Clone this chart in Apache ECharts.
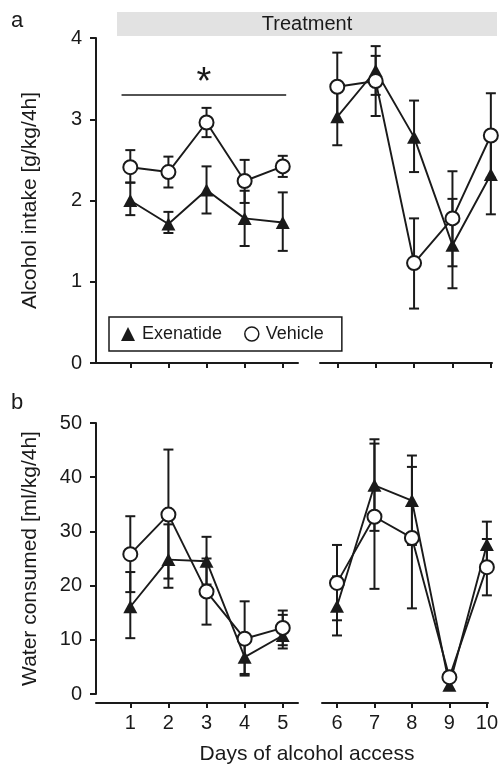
<!DOCTYPE html>
<html>
<head>
<meta charset="utf-8">
<script src="https://cdn.jsdelivr.net/npm/echarts@6/dist/echarts.min.js"></script>
<style>
  html, body { margin: 0; padding: 0; background: #fff; }
  #chart { width: 501px; height: 766px; }
</style>
</head>
<body>
<div id="chart"></div>
<script>
// days, split in two blocks (before / after treatment gap)
const daysLeft = [1, 2, 3, 4, 5];
const daysRight = [6, 7, 8, 9, 10];

// a: alcohol intake [g/kg/4h]
const alcoholExenatide = [2.00, 1.71, 2.13, 1.78, 1.73, 3.03, 3.60, 2.78, 1.45, 2.32];
const alcoholExenatideLow = [1.82, 1.60, 1.84, 1.44, 1.38, 2.68, 3.30, 2.35, 0.92, 1.83];
const alcoholExenatideHigh = [2.22, 1.86, 2.42, 2.12, 2.10, 3.38, 3.90, 3.23, 2.02, 2.80];
const alcoholVehicle = [2.41, 2.35, 2.96, 2.24, 2.42, 3.40, 3.47, 1.23, 1.78, 2.80];
const alcoholVehicleLow = [2.22, 2.16, 2.78, 1.97, 2.29, 2.98, 3.04, 0.67, 1.19, 2.28];
const alcoholVehicleHigh = [2.62, 2.54, 3.14, 2.50, 2.55, 3.82, 3.78, 1.78, 2.36, 3.32];

// b: water consumed [ml/kg/4h]
const waterExenatide = [16.1, 24.8, 24.5, 6.8, 10.8, 16.2, 38.5, 35.7, 1.6, 27.6];
const waterExenatideLow = [10.3, 19.6, 20.2, 3.4, 8.4, 10.8, 30.1, 27.5, 0.8, 23.2];
const waterExenatideHigh = [22.5, 31.3, 29.0, 10.3, 14.6, 21.7, 47.0, 44.0, 2.4, 31.8];
const waterVehicle = [25.8, 33.1, 18.9, 10.2, 12.2, 20.5, 32.7, 28.8, 3.1, 23.4];
const waterVehicleLow = [18.8, 21.3, 12.8, 3.7, 9.0, 13.6, 19.4, 15.8, 2.3, 18.2];
const waterVehicleHigh = [32.8, 45.1, 25.0, 17.1, 15.4, 27.5, 46.2, 41.9, 4.0, 28.6];

// significance bar over days 1-5 in panel a
const sigStart = [0.77, 3.3];
const sigEnd = [5.09, 3.3];

const INK = '#1a1a1a';
const FONT = 'Liberation Sans, Arial, Helvetica, sans-serif';

const chart = echarts.init(document.getElementById('chart'));

const pts = (days, vals, off) => days.map((d, i) => [d, vals[off + i]]);

const errorBars = (axis, days, low, high, off) => ({
  type: 'custom',
  xAxisIndex: axis,
  yAxisIndex: axis,
  z: 2,
  silent: true,
  data: days.map((d, i) => [d, low[off + i], high[off + i]]),
  encode: { x: 0, y: [1, 2] },
  renderItem: (params, api) => {
    const lo = api.coord([api.value(0), api.value(1)]);
    const hi = api.coord([api.value(0), api.value(2)]);
    const w = 5;
    const style = { stroke: INK, lineWidth: 2 };
    return {
      type: 'group',
      children: [
        { type: 'line', shape: { x1: lo[0], y1: lo[1], x2: hi[0], y2: hi[1] }, style },
        { type: 'line', shape: { x1: lo[0] - w, y1: lo[1], x2: lo[0] + w, y2: lo[1] }, style },
        { type: 'line', shape: { x1: hi[0] - w, y1: hi[1], x2: hi[0] + w, y2: hi[1] }, style }
      ]
    };
  }
});

const exenatideLine = (axis, data) => ({
  type: 'line',
  name: 'Exenatide',
  xAxisIndex: axis,
  yAxisIndex: axis,
  z: 3,
  data,
  symbol: 'triangle',
  symbolSize: [14, 13],
  itemStyle: { color: INK },
  lineStyle: { color: INK, width: 1.9 }
});

const vehicleLine = (axis, data) => ({
  type: 'line',
  name: 'Vehicle',
  xAxisIndex: axis,
  yAxisIndex: axis,
  z: 4,
  data,
  symbol: 'circle',
  symbolSize: 14,
  itemStyle: { color: '#fff', borderColor: INK, borderWidth: 2 },
  lineStyle: { color: INK, width: 1.9 }
});

const xAxisDef = (grid, min, max, ticks, withLabels) => ({
  type: 'value',
  gridIndex: grid,
  min, max,
  offset: withLabels ? 9 : 0,
  axisLine: { show: true, onZero: false, lineStyle: { color: INK, width: 2 } },
  axisTick: { show: true, customValues: ticks, length: 5, lineStyle: { color: INK, width: 2 } },
  axisLabel: {
    show: withLabels, customValues: ticks, margin: 10,
    fontSize: 20, color: INK, fontFamily: FONT
  },
  splitLine: { show: false }
});

const yAxisDef = (grid, max, interval, name, visible) => ({
  type: 'value',
  gridIndex: grid,
  min: 0, max, interval,
  show: visible,
  name,
  nameLocation: 'middle',
  nameGap: 55,
  nameTextStyle: { fontSize: 21, color: INK, fontFamily: FONT },
  axisLine: { show: true, onZero: false, lineStyle: { color: INK, width: 2 } },
  axisTick: { show: true, length: 6, lineStyle: { color: INK, width: 2 } },
  axisLabel: { margin: 14, fontSize: 20, color: INK, fontFamily: FONT },
  splitLine: { show: false }
});

const alcoholLeftVehicle = vehicleLine(0, pts(daysLeft, alcoholVehicle, 0));
alcoholLeftVehicle.markLine = {
  silent: true,
  symbol: 'none',
  lineStyle: { color: INK, width: 1.6, type: 'solid' },
  label: { show: true, position: 'middle', formatter: '*', fontSize: 38, color: INK, fontFamily: FONT, distance: -8 },
  data: [[{ coord: sigStart }, { coord: sigEnd }]]
};

const option = {
  animation: false,
  backgroundColor: '#fff',
  grid: [
    { left: 96, top: 38, width: 202, height: 325 },
    { left: 320, top: 38, width: 172, height: 325 },
    { left: 96, top: 423, width: 202, height: 271 },
    { left: 322, top: 423, width: 170, height: 271 }
  ],
  xAxis: [
    xAxisDef(0, 0.1, 5.4, daysLeft, false),
    xAxisDef(1, 5.55, 10.03, daysRight, false),
    xAxisDef(2, 0.1, 5.4, daysLeft, true),
    xAxisDef(3, 5.6, 10.03, daysRight, true)
  ],
  yAxis: [
    yAxisDef(0, 4, 1, 'Alcohol intake [g/kg/4h]', true),
    yAxisDef(1, 4, 1, '', false),
    yAxisDef(2, 50, 10, 'Water consumed [ml/kg/4h]', true),
    yAxisDef(3, 50, 10, '', false)
  ],
  legend: {
    left: 109,
    top: 317,
    orient: 'horizontal',
    borderColor: INK,
    borderWidth: 1.5,
    padding: [8, 18, 8, 12],
    itemGap: 22,
    itemWidth: 14,
    itemHeight: 14,
    textStyle: { fontSize: 18, color: INK, fontFamily: FONT, padding: [0, 0, 0, 2] },
    data: [
      { name: 'Exenatide', icon: 'triangle', itemStyle: { color: INK } },
      { name: 'Vehicle', icon: 'circle', itemStyle: { color: '#fff', borderColor: INK, borderWidth: 1.5 } }
    ]
  },
  graphic: [
    { type: 'rect', shape: { x: 117, y: 12, width: 380, height: 24 }, style: { fill: '#e2e2e2' }, z: 0 },
    { type: 'text', style: { text: 'Treatment', x: 307, y: 24, textAlign: 'center', textVerticalAlign: 'middle', font: '20px ' + FONT, fill: INK } },
    { type: 'text', style: { text: 'a', x: 17, y: 21, textAlign: 'center', textVerticalAlign: 'middle', font: '22px ' + FONT, fill: INK } },
    { type: 'text', style: { text: 'b', x: 17, y: 403, textAlign: 'center', textVerticalAlign: 'middle', font: '22px ' + FONT, fill: INK } },
    { type: 'text', style: { text: 'Days of alcohol access', x: 307, y: 754, textAlign: 'center', textVerticalAlign: 'middle', font: '21px ' + FONT, fill: INK } }
  ],
  series: [
    errorBars(0, daysLeft, alcoholExenatideLow, alcoholExenatideHigh, 0),
    errorBars(0, daysLeft, alcoholVehicleLow, alcoholVehicleHigh, 0),
    exenatideLine(0, pts(daysLeft, alcoholExenatide, 0)),
    alcoholLeftVehicle,

    errorBars(1, daysRight, alcoholExenatideLow, alcoholExenatideHigh, 5),
    errorBars(1, daysRight, alcoholVehicleLow, alcoholVehicleHigh, 5),
    exenatideLine(1, pts(daysRight, alcoholExenatide, 5)),
    vehicleLine(1, pts(daysRight, alcoholVehicle, 5)),

    errorBars(2, daysLeft, waterExenatideLow, waterExenatideHigh, 0),
    errorBars(2, daysLeft, waterVehicleLow, waterVehicleHigh, 0),
    exenatideLine(2, pts(daysLeft, waterExenatide, 0)),
    vehicleLine(2, pts(daysLeft, waterVehicle, 0)),

    errorBars(3, daysRight, waterExenatideLow, waterExenatideHigh, 5),
    errorBars(3, daysRight, waterVehicleLow, waterVehicleHigh, 5),
    exenatideLine(3, pts(daysRight, waterExenatide, 5)),
    vehicleLine(3, pts(daysRight, waterVehicle, 5))
  ]
};

chart.setOption(option);
</script>
</body>
</html>
